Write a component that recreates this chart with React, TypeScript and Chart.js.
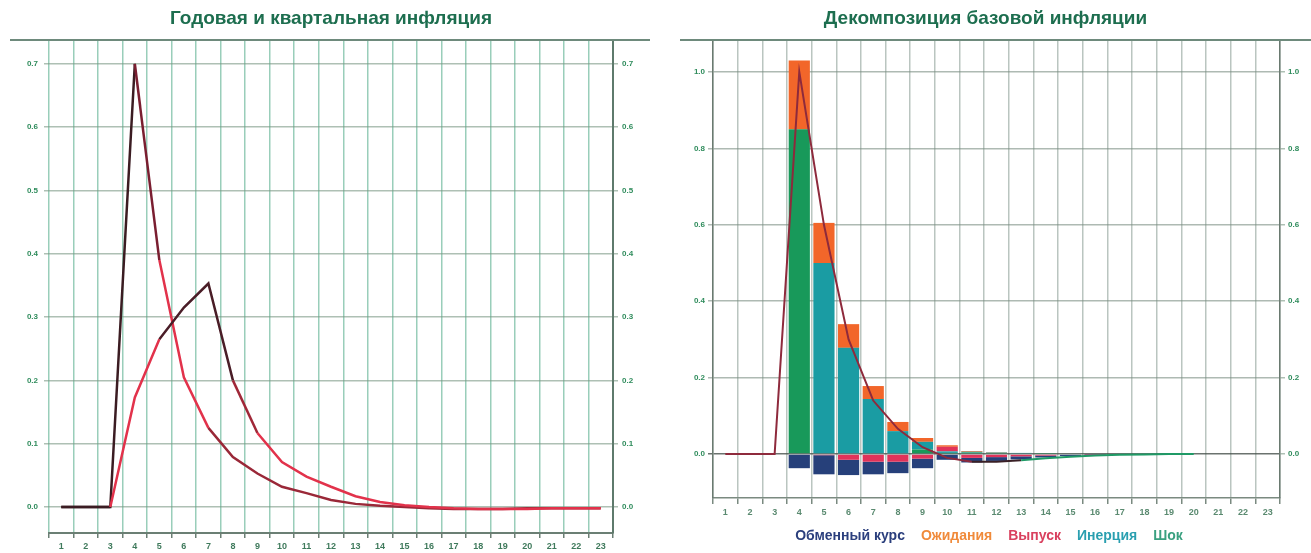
import React, { useEffect, useRef } from 'react';
import { Chart, registerables } from 'chart.js';

Chart.register(...registerables);
Chart.defaults.font.family = 'Arial, "Liberation Sans", sans-serif';

// ---------- data ----------
const periods = ['1', '2', '3', '4', '5', '6', '7', '8', '9', '10', '11', '12', '13', '14', '15', '16', '17', '18', '19', '20', '21', '22', '23'];

// left panel: annual and quarterly inflation
const quarterlyInflation = [0, 0, 0, 0.70, 0.39, 0.205, 0.125, 0.079, 0.053, 0.032, 0.022, 0.011, 0.005, 0.002, 0.0, -0.002, -0.003, -0.003, -0.003, -0.002, -0.002, -0.002, -0.002];
const annualInflation = [0, 0, 0, 0.173, 0.265, 0.315, 0.353, 0.200, 0.117, 0.071, 0.048, 0.032, 0.017, 0.008, 0.003, 0.0, -0.002, -0.003, -0.003, -0.003, -0.002, -0.002, -0.002];
const leftTicks = [0, 0.1, 0.2, 0.3, 0.4, 0.5, 0.6, 0.7];

// right panel: core inflation decomposition
const exchangeRate = [0, 0, 0, -0.037, -0.05, -0.04, -0.033, -0.03, -0.025, -0.015, -0.012, -0.01, -0.008, -0.005, -0.003, -0.002, -0.001, 0, 0, 0, 0, 0, 0];
const expectations = [0, 0, 0, 0.18, 0.105, 0.062, 0.034, 0.024, 0.01, 0.004, 0.002, 0.001, 0, 0, 0, 0, 0, 0, 0, 0, 0, 0, 0];
const outputGap = [0, 0, 0, 0, -0.003, -0.015, -0.02, -0.02, -0.012, 0.012, -0.01, -0.008, -0.006, -0.004, -0.002, -0.001, 0, 0, 0, 0, 0, 0, 0];
const inertia = [0, 0, 0, 0, 0.50, 0.278, 0.144, 0.06, 0.02, 0.004, 0.002, 0.001, 0.001, 0, 0, 0, 0, 0, 0, 0, 0, 0, 0];
const shock = [0, 0, 0, 0.85, 0, 0, 0, 0, 0.012, 0.003, 0.004, 0.003, 0.002, 0.001, 0, 0, 0, 0, 0, 0, 0, 0, 0];
const coreInflation = [0, 0, 0, 1.0, 0.6, 0.30, 0.14, 0.066, 0.018, -0.01, -0.02, -0.02, -0.016, -0.011, -0.007, -0.004, -0.002, -0.001, 0, 0, null, null, null];
const rightTicks = [0, 0.2, 0.4, 0.6, 0.8, 1.0];

const legendOrder = ['Обменный курс', 'Ожидания', 'Выпуск', 'Инерция', 'Шок'];

// ---------- styles ----------
const vGrid = 'rgba(70,165,130,0.55)';
const hGrid = 'rgba(120,150,130,0.6)';
const tickGreen = '#2f8c5c';
const darkLine = '#3b1c22';
const redLine = '#e2324b';

const tickFontSmall = { size: 8, weight: 'bold' as const };

export default function App() {
  const leftRef = useRef<HTMLCanvasElement>(null);
  const rightRef = useRef<HTMLCanvasElement>(null);

  useEffect(() => {
    const setTicks = (vals: number[]) => (scale: any) => {
      scale.ticks = vals.map((v) => ({ value: v }));
    };

    const left = new Chart(leftRef.current!, {
      type: 'line',
      data: {
        labels: periods,
        datasets: [
          {
            label: 'Годовая инфляция',
            data: annualInflation,
            borderColor: redLine,
            borderWidth: 2.5,
            pointRadius: 0,
            tension: 0,
            segment: {
              borderColor: (ctx: any) => {
                const i = ctx.p0DataIndex;
                if (i < 2) return darkLine;
                if (i >= 4 && i <= 6) return '#4a1d27';
                if (i === 7) return '#a02838';
                return redLine;
              },
            },
          },
          {
            label: 'Квартальная инфляция',
            data: quarterlyInflation,
            borderColor: darkLine,
            borderWidth: 2.5,
            pointRadius: 0,
            tension: 0,
            segment: {
              borderColor: (ctx: any) => {
                const i = ctx.p0DataIndex;
                if (i <= 2) return darkLine;
                if (i === 3) return '#7a1e30';
                if (i <= 5) return redLine;
                return '#9a2838';
              },
            },
          },
        ],
      },
      options: {
        responsive: false,
        animation: false,
        devicePixelRatio: 1,
        layout: { padding: { top: 41, left: 0, right: 0, bottom: 0 } },
        plugins: { legend: { display: false }, title: { display: false }, tooltip: { enabled: false } },
        scales: {
          x: {
            offset: true,
            grid: { offset: true, color: vGrid, lineWidth: 1.5, tickLength: 5, tickColor: '#6b7f74' },
            border: { display: true, color: '#6b7f74', width: 2 },
            ticks: { font: { size: 9, weight: 'bold' }, color: '#3f7a5c', padding: 3, maxRotation: 0, autoSkip: false },
            afterFit: (s: any) => { s.height = 20; },
          },
          y: {
            min: -0.041,
            max: 0.736,
            afterBuildTicks: setTicks(leftTicks),
            grid: { color: hGrid, lineWidth: 1.5, tickLength: 5 },
            border: { display: false },
            ticks: { font: tickFontSmall, color: tickGreen, padding: 6, callback: (v: any) => Number(v).toFixed(1) },
            afterFit: (s: any) => { s.width = 49; },
          },
          y2: {
            position: 'right',
            min: -0.041,
            max: 0.736,
            afterBuildTicks: setTicks(leftTicks),
            grid: { drawOnChartArea: false, color: hGrid, lineWidth: 1.5, tickLength: 5 },
            border: { display: true, color: '#5e7a6c', width: 2 },
            ticks: { font: tickFontSmall, color: tickGreen, padding: 4, callback: (v: any) => Number(v).toFixed(1) },
            afterFit: (s: any) => { s.width = 47; },
          },
        },
      },
    } as any);

    const barCommon = { stack: 'parts', barPercentage: 0.86, categoryPercentage: 1.0, order: 2, borderWidth: 0 };

    const right = new Chart(rightRef.current!, {
      type: 'bar',
      data: {
        labels: periods,
        datasets: [
          {
            type: 'line',
            label: 'Базовая инфляция',
            data: coreInflation,
            stack: 'total',
            order: 0,
            borderColor: '#8e2a3c',
            borderWidth: 2,
            pointRadius: 0,
            tension: 0,
            segment: {
              borderColor: (ctx: any) => {
                const i = ctx.p0DataIndex;
                if (i <= 9) return '#8e2a3c';
                if (i <= 11) return '#3a2026';
                return '#1f9a66';
              },
            },
          },
          { ...barCommon, label: 'Шок', data: shock, backgroundColor: '#18995a' },
          { ...barCommon, label: 'Инерция', data: inertia, backgroundColor: '#1a9ca3' },
          { ...barCommon, label: 'Выпуск', data: outputGap, backgroundColor: '#e0335a' },
          { ...barCommon, label: 'Ожидания', data: expectations, backgroundColor: '#f2662a' },
          { ...barCommon, label: 'Обменный курс', data: exchangeRate, backgroundColor: '#26407a' },
        ],
      },
      options: {
        responsive: false,
        animation: false,
        devicePixelRatio: 1,
        layout: { padding: { top: 41, left: 0, right: 0, bottom: 0 } },
        plugins: {
          title: { display: false },
          tooltip: { enabled: false },
          legend: {
            display: true,
            position: 'bottom',
            labels: {
              boxWidth: 0,
              boxHeight: 0,
              padding: 9,
              font: { size: 14, weight: 'bold' },
              filter: (item: any) => legendOrder.includes(item.text),
              sort: (a: any, b: any) => legendOrder.indexOf(a.text) - legendOrder.indexOf(b.text),
              generateLabels: (chart: any) => {
                const colors: Record<string, string> = {
                  'Обменный курс': '#2b3f7d',
                  'Ожидания': '#f08a3a',
                  'Выпуск': '#d9405e',
                  'Инерция': '#2a9fb0',
                  'Шок': '#3aa080',
                };
                return chart.data.datasets.map((ds: any, i: number) => ({
                  text: ds.label,
                  fontColor: colors[ds.label] || '#333',
                  fillStyle: 'rgba(0,0,0,0)',
                  strokeStyle: 'rgba(0,0,0,0)',
                  lineWidth: 0,
                  hidden: false,
                  datasetIndex: i,
                }));
              },
            },
          },
        },
        scales: {
          x: {
            stacked: true,
            offset: true,
            grid: { offset: true, color: 'rgba(130,150,140,0.55)', lineWidth: 1.5, tickLength: 6, tickColor: '#7a8a80' },
            border: { display: true, color: '#7a8a80', width: 1.5 },
            ticks: { font: { size: 9, weight: 'bold' }, color: '#5a8a70', padding: 3, maxRotation: 0, autoSkip: false },
            afterFit: (s: any) => { s.height = 22; },
          },
          y: {
            stacked: true,
            min: -0.115,
            max: 1.081,
            afterBuildTicks: setTicks(rightTicks),
            grid: {
              color: (ctx: any) => (ctx.tick && ctx.tick.value === 0 ? 'rgba(70,80,75,0.8)' : 'rgba(120,140,128,0.6)'),
              lineWidth: 1.5,
              tickLength: 5,
            },
            border: { display: true, color: '#6a7a70', width: 1.5 },
            ticks: { font: tickFontSmall, color: tickGreen, padding: 3, callback: (v: any) => Number(v).toFixed(1) },
            afterFit: (s: any) => { s.width = 53; },
          },
          y2: {
            position: 'right',
            min: -0.115,
            max: 1.081,
            afterBuildTicks: setTicks(rightTicks),
            grid: { drawOnChartArea: false, color: hGrid, lineWidth: 1.5, tickLength: 5 },
            border: { display: true, color: '#6a7a70', width: 1.5 },
            ticks: { font: tickFontSmall, color: tickGreen, padding: 3, callback: (v: any) => Number(v).toFixed(1) },
            afterFit: (s: any) => { s.width = 31; },
          },
        },
      },
    } as any);

    return () => {
      left.destroy();
      right.destroy();
    };
  }, []);

  const titleStyle: React.CSSProperties = {
    position: 'absolute',
    top: 6,
    textAlign: 'center',
    fontFamily: 'Arial, "Liberation Sans", sans-serif',
    fontWeight: 'bold',
    fontSize: 19,
    color: '#1d6e4f',
    lineHeight: '24px',
  };

  return (
    <div style={{ position: 'fixed', left: 0, top: 0, width: 1311, height: 553, background: '#ffffff', overflow: 'hidden' }}>
      <canvas ref={leftRef} width={660} height={553} style={{ position: 'absolute', left: 0, top: 0, width: 660, height: 553 }} />
      <canvas ref={rightRef} width={651} height={553} style={{ position: 'absolute', left: 660, top: 0, width: 651, height: 553 }} />
      <div style={{ ...titleStyle, left: 0, width: 662 }}>Годовая и квартальная инфляция</div>
      <div style={{ ...titleStyle, left: 660, width: 651 }}>Декомпозиция базовой инфляции</div>
      <div style={{ position: 'absolute', left: 10, top: 39, width: 640, height: 2, background: '#6e8a7c' }} />
      <div style={{ position: 'absolute', left: 680, top: 39, width: 631, height: 2, background: '#6e8a7c' }} />
    </div>
  );
}
